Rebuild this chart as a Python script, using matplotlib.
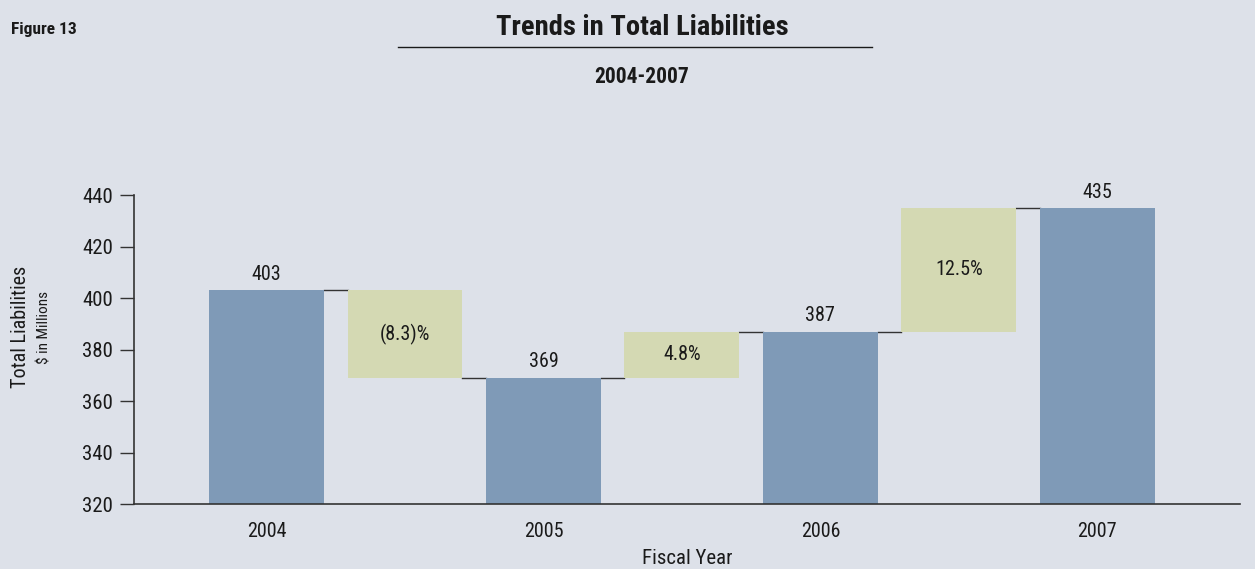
import matplotlib.pyplot as plt
from matplotlib import font_manager

# Total liabilities by fiscal year ($ in millions) and the year-over-year change
years = ["2004", "2005", "2006", "2007"]
liabilities = [403, 369, 387, 435]
changes = ["(8.3)%", "4.8%", "12.5%"]

bg = "#dde1e9"
bar_color = "#7f9ab7"
step_color = "#d4d9b3"
ink = "#1a1a1a"

# prefer a narrow face if one is around
fonts = font_manager.fontManager.ttflist
names = {f.name for f in fonts}
stretch = "normal"
if "Liberation Sans Narrow" in names:
    face = "Liberation Sans Narrow"
elif "Roboto Condensed" in names:
    face = "Roboto Condensed"
elif any(f.name == "DejaVu Sans" and f.stretch == "condensed" for f in fonts):
    face, stretch = "DejaVu Sans", "condensed"
else:
    face = "Roboto"
plt.rcParams["font.family"] = [face, "DejaVu Sans"]
plt.rcParams["font.stretch"] = stretch

fig = plt.figure(figsize=(12.55, 5.69), dpi=100, facecolor=bg)
ax = fig.add_axes([0.1068, 0.1142, 0.8812, 0.5428], facecolor=bg)

w = 0.83
for i, v in enumerate(liabilities):
    x = 2 * i
    ax.bar(x, v - 320, bottom=320, width=w, color=bar_color, zorder=2)
    ax.text(x, v + 2.5, str(v), ha="center", va="bottom", fontsize=14.5, color=ink)

# change boxes between consecutive years, with connector lines
for i, lab in enumerate(changes):
    a, b = liabilities[i], liabilities[i + 1]
    x = 2 * i + 1
    lo, hi = min(a, b), max(a, b)
    ax.bar(x, hi - lo, bottom=lo, width=w, color=step_color, zorder=2)
    ax.text(x, (lo + hi) / 2, lab, ha="center", va="center", fontsize=14.5, color=ink)
    ax.plot([x - 1 + w / 2, x - w / 2], [a, a], color="#333333", lw=1, zorder=1)
    ax.plot([x + w / 2, x + 1 - w / 2], [b, b], color="#333333", lw=1, zorder=1)

ax.set_xlim(-0.957, 7.03)
ax.set_ylim(320, 440)
ax.set_yticks(range(320, 441, 20))
ax.set_xticks([0, 2, 4, 6])
ax.set_xticklabels(years)
ax.tick_params(axis="y", length=10, width=1, color="#333333", labelsize=15,
               labelcolor=ink, pad=5)
ax.tick_params(axis="x", length=0, labelsize=14.5, labelcolor=ink, pad=13)
for s in ["top", "right"]:
    ax.spines[s].set_visible(False)
for s in ["left", "bottom"]:
    ax.spines[s].set_color("#333333")
    ax.spines[s].set_linewidth(1.2)

ax.set_xlabel("Fiscal Year", fontsize=15, color=ink, labelpad=6)
fig.text(0.0165, 0.425, "Total Liabilities", rotation=90, ha="center", va="center",
         fontsize=14.5, color=ink)
fig.text(0.0355, 0.425, "$ in Millions", rotation=90, ha="center", va="center",
         fontsize=11, color=ink)

# header
fig.text(0.009, 0.949, "Figure 13", ha="left", va="center", fontsize=12.5,
         fontweight="bold", color=ink)
fig.text(0.5115, 0.952, "Trends in Total Liabilities", ha="center", va="center",
         fontsize=20.5, fontweight="bold", color=ink)
fig.add_artist(plt.Line2D([0.317, 0.695], [0.917, 0.917], color=ink, lw=1))
fig.text(0.5115, 0.865, "2004-2007", ha="center", va="center", fontsize=15.5,
         fontweight="bold", color=ink)

fig.savefig("out.png", dpi=100, facecolor=bg)
